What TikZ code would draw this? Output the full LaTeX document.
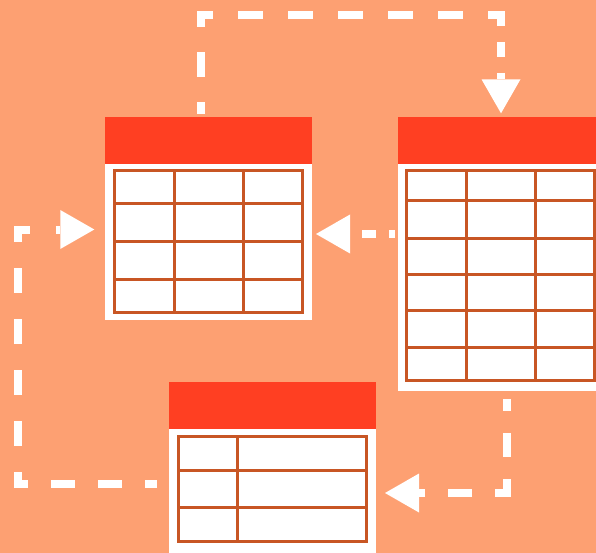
\documentclass[tikz,border=0pt]{standalone}
\usetikzlibrary{arrows.meta}
\definecolor{bgc}{RGB}{253,160,114}
\definecolor{hdrc}{RGB}{255,63,34}
\definecolor{gridc}{RGB}{200,86,36}
\begin{document}
\begin{tikzpicture}[x=1pt,y=-1pt,
  hdrbox/.style={rectangle,fill=hdrc,draw=none,inner sep=0pt,outer sep=0pt,minimum width=207pt,minimum height=47pt,anchor=north west},
  bodybox/.style={rectangle,fill=white,draw=none,inner sep=0pt,outer sep=0pt,minimum width=207pt,anchor=north west},
  gridln/.style={draw=gridc,line width=3pt},
  conn/.style={draw=white,line width=8pt},
  tipped/.style={-{Triangle[width=39pt,length=34pt,line width=0pt]}}]
\useasboundingbox (0,0) rectangle (596,553);
\clip (0,0) rectangle (596,553);
\fill[bgc] (0,0) rectangle (596,553);

% ---- table 1 (top left)
\node[hdrbox] (h1) at (105,117) {};
\node[bodybox,minimum height=156pt] (t1) at (105,164) {};
\draw[gridln] (114.5,170.3) rectangle (302.5,312.3);
\draw[gridln] (174,170.3) -- (174,312.3) (243,170.3) -- (243,312.3)
  (114.5,203.7) -- (302.5,203.7) (114.5,241.7) -- (302.5,241.7) (114.5,279) -- (302.5,279);

% ---- table 2 (right)
\node[hdrbox,minimum width=210pt] (h2) at (398,117) {};
\node[bodybox,minimum width=210pt,minimum height=227pt] (t2) at (398,164) {};
\draw[gridln] (406.7,170.3) rectangle (594.5,380.7);
\draw[gridln] (466,170.3) -- (466,380.7) (535,170.3) -- (535,380.7)
  (406.7,201) -- (594.5,201) (406.7,238) -- (594.5,238) (406.7,274) -- (594.5,274)
  (406.7,310) -- (594.5,310) (406.7,347) -- (594.5,347);

% ---- table 3 (bottom)
\node[hdrbox] (h3) at (169,382) {};
\node[bodybox,minimum height=130pt] (t3) at (169,429) {};
\draw[gridln] (178.3,436) rectangle (366.7,541);
\draw[gridln] (237.3,436) -- (237.3,541)
  (178.3,470) -- (366.7,470) (178.3,507) -- (366.7,507);

% ---- connector coordinates
\coordinate (a0) at (201,114);
\coordinate (a1) at (201,15);
\coordinate (a1x) at (201,11);
\coordinate (a2) at (501,15);
\coordinate (a2x) at (505,15);
\coordinate (a3) at (501,113.3);

\coordinate (b0) at (395,234);
\coordinate (b1) at (316,234);

\coordinate (c0) at (507,399.3);
\coordinate (c1) at (507,493);
\coordinate (c1x) at (507,497);
\coordinate (c2) at (385,493);

\coordinate (d0) at (157,483.5);
\coordinate (d1) at (17.5,483.5);
\coordinate (d1x) at (13.5,483.5);
\coordinate (d2) at (17.5,229.5);
\coordinate (d3) at (94.3,229.5);

% ---- connectors
\draw[conn,dash pattern=on 25pt off 25pt,dash phase=13pt] (a0) -- (a1x);
\draw[conn,dash pattern=on 25pt off 25pt,dash phase=13pt] (a1) -- (a2x);
\draw[conn,tipped,dash pattern=on 15.5pt off 15.5pt,dash phase=4.2pt] (a2) -- (a3);

\draw[conn,tipped,dash pattern=on 14pt off 13pt,dash phase=8pt] (b0) -- (b1);

\draw[conn,dash pattern=on 23.5pt off 22.5pt,dash phase=12pt] (c0) -- (c1x);
\draw[conn,tipped,dash pattern=on 24pt off 23pt,dash phase=12pt] (c1) -- (c2);

\draw[conn,dash pattern=on 23.5pt off 23.5pt,dash phase=11.5pt] (d0) -- (d1x);
\draw[conn,tipped,dash pattern=on 25.5pt off 25.5pt,dash phase=13.7pt] (d1) -- (d2) -- (d3);
\end{tikzpicture}
\end{document}
